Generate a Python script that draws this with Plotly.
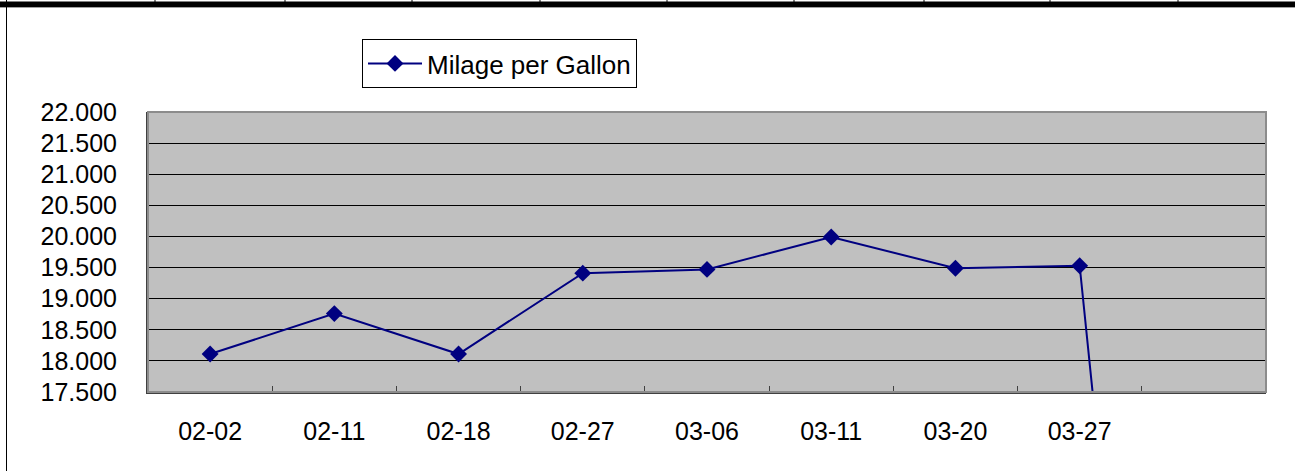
import plotly.graph_objects as go

# fill-up dates (last slot has no date yet, value recorded as 0)
dates = ["02-02", "02-11", "02-18", "02-27", "03-06", "03-11", "03-20", "03-27", ""]
mpg = [18.11, 18.76, 18.11, 19.41, 19.47, 19.99, 19.49, 19.53, 0.0]
y_ticks = [17.5, 18.0, 18.5, 19.0, 19.5, 20.0, 20.5, 21.0, 21.5, 22.0]

W, H = 1295, 471
L, R, T, B = 148, 29, 112, 79
pw, ph = W - L - R, H - T - B


def px(x):
    return (x - L) / pw


def py(y):
    return (H - B - y) / ph


idx = list(range(len(mpg)))
font = "Liberation Sans, Arial, sans-serif"

fig = go.Figure()
fig.add_trace(
    go.Scatter(
        x=idx,
        y=mpg,
        mode="lines+markers",
        name="Milage per Gallon",
        line=dict(color="#000080", width=2),
        marker=dict(symbol="diamond", size=13, color="#000080"),
    )
)

fig.update_xaxes(
    range=[-0.5, len(mpg) - 0.5],
    tickmode="array",
    tickvals=idx[:-1],
    ticktext=dates[:-1],
    ticks="",
    showgrid=False,
    zeroline=False,
    showline=True,
    linecolor="#404040",
    linewidth=2,
    ticklabelstandoff=16,
    minor=dict(
        tickmode="array",
        tickvals=[i + 0.5 for i in idx[:-1]],
        ticks="inside",
        ticklen=6,
        tickcolor="#404040",
        tickwidth=1,
        showgrid=False,
    ),
    tickfont=dict(family=font, size=25, color="black"),
)
fig.update_yaxes(
    range=[y_ticks[0], y_ticks[-1]],
    tickmode="array",
    tickvals=y_ticks,
    tickformat=".3f",
    showgrid=True,
    gridcolor="black",
    gridwidth=1,
    zeroline=False,
    showline=True,
    linecolor="#404040",
    linewidth=2,
    ticklabelstandoff=24,
    tickfont=dict(family=font, size=25, color="black"),
)

shapes = [
    # light frame round the plot area
    dict(type="rect", xref="paper", yref="paper", x0=0, x1=1, y0=0, y1=1,
         line=dict(color="#8c8c8c", width=2), layer="above"),
    # spreadsheet row border at the top
    dict(type="rect", xref="paper", yref="paper", x0=px(0), x1=px(W),
         y0=py(1.5), y1=py(7), fillcolor="black", line=dict(width=0)),
    dict(type="line", xref="paper", yref="paper", x0=px(0), x1=px(W),
         y0=py(7.5), y1=py(7.5), line=dict(color="#a0a0a0", width=1)),
    # spreadsheet left edge
    dict(type="line", xref="paper", yref="paper", x0=px(6.5), x1=px(6.5),
         y0=py(0), y1=py(H), line=dict(color="black", width=1)),
]
for cx in [155, 285, 412, 540, 667, 794, 924, 1050, 1178]:
    shapes.append(
        dict(type="line", xref="paper", yref="paper", x0=px(cx), x1=px(cx),
             y0=py(0), y1=py(2), line=dict(color="black", width=1))
    )

fig.update_layout(
    width=W,
    height=H,
    margin=dict(l=L, r=R, t=T, b=B),
    paper_bgcolor="white",
    plot_bgcolor="#c0c0c0",
    showlegend=True,
    legend=dict(
        x=px(362),
        y=py(39),
        xanchor="left",
        yanchor="top",
        bgcolor="white",
        bordercolor="black",
        borderwidth=1,
        font=dict(family=font, size=26, color="black"),
        itemwidth=54,
    ),
    shapes=shapes,
)

# page body margin would shift the chart by 8px
fig.write_html(
    "out.html",
    config={"displayModeBar": False},
    post_script="document.body.style.margin='0px';",
)
